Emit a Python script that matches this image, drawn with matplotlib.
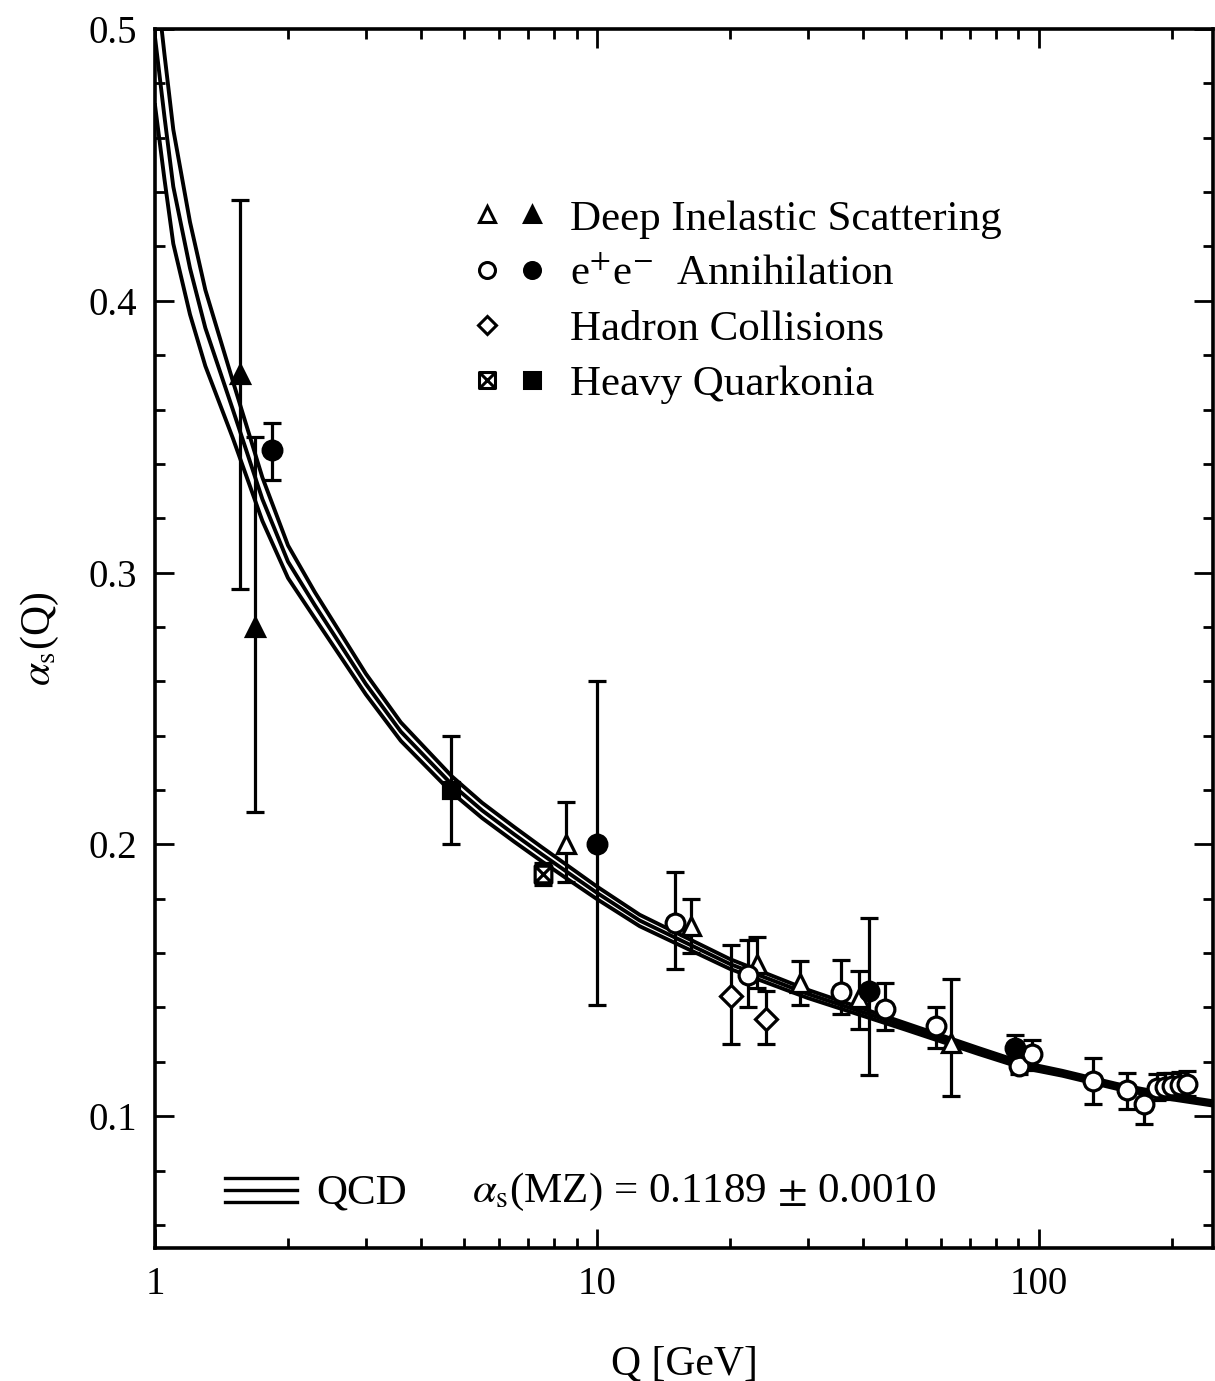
import numpy as np
import matplotlib
matplotlib.use("Agg")
import matplotlib.pyplot as plt
from matplotlib.lines import Line2D
from matplotlib.path import Path
from matplotlib.legend_handler import HandlerTuple, HandlerBase
from matplotlib.ticker import FixedLocator, NullFormatter

plt.rcParams['font.family'] = ['Liberation Serif', 'DejaVu Serif']
plt.rcParams['mathtext.fontset'] = 'stix'

# -----------------------------
# QCD running coupling band
# -----------------------------
qcd_q = [1.00, 1.05, 1.10, 1.20, 1.30, 1.50, 1.75, 2.00, 2.30, 3.00, 3.60, 4.70, 5.50, 6.50,
         7.50, 8.50, 10.0, 12.5, 20.0, 30.0, 50.0, 73.0, 91.2, 113, 150, 200, 248]
qcd_mid = [0.497, 0.468, 0.442, 0.412, 0.390, 0.360, 0.327, 0.304, 0.288, 0.259, 0.2415, 0.222, 0.2125, 0.2037,
           0.1964, 0.1902, 0.1822, 0.172, 0.156, 0.145, 0.133, 0.124, 0.1189, 0.1158, 0.111, 0.107, 0.1047]
qcd_lo = [0.472, 0.445, 0.421, 0.395, 0.376, 0.3495, 0.319, 0.298, 0.2832, 0.2552, 0.2381, 0.219, 0.2097, 0.201,
          0.1938, 0.1877, 0.1799, 0.1699, 0.1542, 0.1435, 0.1318, 0.1229, 0.1179, 0.1149, 0.1101, 0.1062, 0.1039]
qcd_hi = [0.522, 0.491, 0.463, 0.429, 0.404, 0.3705, 0.335, 0.310, 0.2928, 0.2628, 0.2449, 0.225, 0.2153, 0.2064,
          0.199, 0.1927, 0.1845, 0.1741, 0.1578, 0.1465, 0.1342, 0.1251, 0.1199, 0.1167, 0.1119, 0.1078, 0.1055]

# -----------------------------
# Measurements: Q, alpha_s, lower end, upper end of error bar
# -----------------------------
# Deep inelastic scattering, open and filled
dis_open_q = [8.51, 16.3, 23.0, 28.8, 39.2, 63.2]
dis_open_a = [0.200, 0.170, 0.156, 0.149, 0.1435, 0.127]
dis_open_lo = [0.186, 0.160, 0.147, 0.141, 0.132, 0.1074]
dis_open_hi = [0.2157, 0.180, 0.166, 0.157, 0.1534, 0.1505]

dis_fill_q = [1.557, 1.684]
dis_fill_a = [0.373, 0.280]
dis_fill_lo = [0.294, 0.212]
dis_fill_hi = [0.437, 0.350]

# e+e- annihilation
ee_open_q = [15.0, 21.96, 35.65, 44.8, 58.5, 90.1, 96.5, 132.5, 158.2, 172.9,
             184.9, 192.8, 199.9, 208.4, 216.2]
ee_open_a = [0.171, 0.152, 0.1457, 0.1394, 0.133, 0.1184, 0.1228, 0.1129, 0.1096, 0.1044,
             0.1103, 0.1107, 0.111, 0.1114, 0.1117]
ee_open_lo = [0.154, 0.140, 0.1376, 0.1317, 0.125, 0.1155, 0.117, 0.1044, 0.1026, 0.097,
              0.106, 0.1065, 0.107, 0.1072, 0.1075]
ee_open_hi = [0.190, 0.165, 0.1575, 0.149, 0.140, 0.1215, 0.128, 0.1214, 0.116, 0.110,
              0.1155, 0.116, 0.116, 0.1162, 0.1165]

ee_fill_q = [1.84, 10.0, 41.2, 88.3]
ee_fill_a = [0.345, 0.200, 0.146, 0.125]
ee_fill_lo = [0.334, 0.141, 0.115, 0.120]
ee_fill_hi = [0.355, 0.260, 0.173, 0.130]

# hadron collisions
had_q = [20.1, 24.2]
had_a = [0.1442, 0.1357]
had_lo = [0.1265, 0.1265]
had_hi = [0.163, 0.146]

# heavy quarkonia
hq_open_q = [7.55]
hq_open_a = [0.189]
hq_open_lo = [0.185]
hq_open_hi = [0.193]

hq_fill_q = [4.67]
hq_fill_a = [0.220]
hq_fill_lo = [0.200]
hq_fill_hi = [0.240]

# crossed square marker
crossed_sq = Path([(-1, -1), (1, -1), (1, 1), (-1, 1), (-1, -1), (-1, -1), (1, 1), (-1, 1), (1, -1)],
                  [Path.MOVETO, Path.LINETO, Path.LINETO, Path.LINETO, Path.CLOSEPOLY,
                   Path.MOVETO, Path.LINETO, Path.MOVETO, Path.LINETO])


class ThreeLines(HandlerBase):
    def create_artists(self, legend, orig_handle, xdescent, ydescent, width, height, fontsize, trans):
        arts = []
        for f in (0.05, 0.45, 0.85):
            ln = Line2D([-xdescent, -xdescent + width], [f * height - ydescent] * 2,
                        color='black', lw=2.4)
            ln.set_transform(trans)
            arts.append(ln)
        return arts


fig = plt.figure(figsize=(12.15, 13.81), dpi=100)
ax = fig.add_axes([155 / 1215, 1 - 1248 / 1381, 1058 / 1215, 1219 / 1381])

# QCD curves
for ys in (qcd_lo, qcd_mid, qcd_hi):
    ax.plot(qcd_q, ys, color='black', lw=2.8, zorder=2)


def points(q, a, lo, hi, marker, filled, ms):
    q = np.array(q)
    a = np.array(a)
    yerr = [a - np.array(lo), np.array(hi) - a]
    ax.errorbar(q, a, yerr=yerr, fmt='none', ecolor='black', elinewidth=2.3,
                capsize=6.5, capthick=2.3, zorder=3)
    ax.plot(q, a, ls='none', marker=marker, ms=ms, mec='black', mew=2.3,
            mfc='black' if filled else 'white', zorder=4)


points(dis_open_q, dis_open_a, dis_open_lo, dis_open_hi, '^', False, 13)
points(dis_fill_q, dis_fill_a, dis_fill_lo, dis_fill_hi, '^', True, 13)
points(ee_open_q, ee_open_a, ee_open_lo, ee_open_hi, 'o', False, 13.5)
points(ee_fill_q, ee_fill_a, ee_fill_lo, ee_fill_hi, 'o', True, 13.5)
points(had_q, had_a, had_lo, had_hi, 'D', False, 11)
points(hq_open_q, hq_open_a, hq_open_lo, hq_open_hi, crossed_sq, False, 12)
points(hq_fill_q, hq_fill_a, hq_fill_lo, hq_fill_hi, 's', True, 12)

ax.set_xscale('log')
ax.set_xlim(1, 248)
ax.set_ylim(0.0515, 0.5)

ax.xaxis.set_major_locator(FixedLocator([1, 10, 100]))
ax.xaxis.set_minor_locator(FixedLocator([2, 3, 4, 5, 6, 7, 8, 9, 20, 30, 40, 50, 60, 70, 80, 90, 200]))
ax.set_xticklabels(['1', '10', '100'])
ax.xaxis.set_minor_formatter(NullFormatter())
ax.yaxis.set_major_locator(FixedLocator([0.1, 0.2, 0.3, 0.4, 0.5]))
ax.yaxis.set_minor_locator(FixedLocator(np.arange(0.06, 0.5, 0.02)))
ax.set_yticklabels(['0.1', '0.2', '0.3', '0.4', '0.5'])

ax.tick_params(which='both', direction='in', top=True, right=True, width=2)
ax.tick_params(which='major', length=14, labelsize=28, pad=13)
ax.tick_params(which='minor', length=7)
for s in ax.spines.values():
    s.set_linewidth(2.6)

ax.set_xlabel('Q [GeV]', fontsize=30, labelpad=30)
ax.set_ylabel(r'$\alpha_{\rm s}$(Q)', fontsize=30, labelpad=20)

# legend for the measurement types
mk = dict(ls='none', mec='black', mew=2.2, ms=11.5)
h_dis = (Line2D([], [], marker='^', mfc='white', **mk), Line2D([], [], marker='^', mfc='black', **mk))
h_ee = (Line2D([], [], marker='o', mfc='white', **mk), Line2D([], [], marker='o', mfc='black', **mk))
h_had = (Line2D([], [], marker='D', mfc='white', ls='none', mec='black', mew=2.2, ms=9.5),
         Line2D([], [], ls='none'))
h_hq = (Line2D([], [], marker=crossed_sq, mfc='white', **mk), Line2D([], [], marker='s', mfc='black', **mk))
leg = ax.legend([h_dis, h_ee, h_had, h_hq],
                ['Deep Inelastic Scattering', r'e$^{+}$e$^{-}$  Annihilation', 'Hadron Collisions', 'Heavy Quarkonia'],
                handler_map={tuple: HandlerTuple(ndivide=None, pad=0.3)},
                loc='upper left', bbox_to_anchor=(0.262, 0.892), frameon=False,
                fontsize=31, handlelength=1.8, handletextpad=0.5, labelspacing=0.37)
ax.add_artist(leg)

qcd_handle = Line2D([], [], color='black')
leg2 = ax.legend([qcd_handle], ['QCD'], handler_map={Line2D: ThreeLines()},
                 loc='lower left', bbox_to_anchor=(0.03, -0.003), frameon=False,
                 fontsize=31, handlelength=1.65, handletextpad=0.45)
ax.text(0.2996, 0.046, r'$\alpha_{\rm s}$(MZ) = 0.1189 $\pm$ 0.0010', transform=ax.transAxes,
        fontsize=31, ha='left', va='center')

fig.savefig('out.png', dpi=100)
